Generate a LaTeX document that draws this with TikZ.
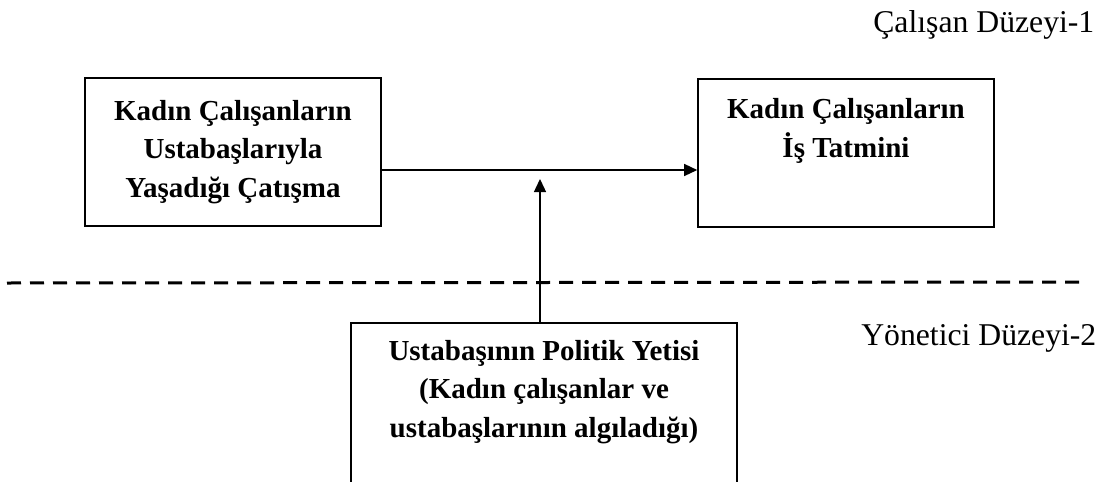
\documentclass[tikz,border=0pt]{standalone}
\usepackage{fontspec}
\setmainfont{Liberation Serif}
\usetikzlibrary{arrows.meta}
\tikzset{
  kutu/.style={draw,line width=1.6pt,align=center,inner sep=0pt,
    font=\fontsize{29}{38.5}\selectfont\bfseries},
  duzey/.style={anchor=base east,inner sep=0pt,font=\fontsize{31.7}{38}\selectfont},
}
\begin{document}
\begin{tikzpicture}[x=1pt,y=-1pt,>={Triangle[length=13pt,width=12pt]},line width=1.4pt]
  \useasboundingbox (0,0) rectangle (1109,482);
  \clip (0,0) rectangle (1109,482);

  % kutular
  \node[kutu,minimum width=296pt,minimum height=148pt] (catisma) at (233,152)
    {Kadın Çalışanların\\Ustabaşlarıyla\\Yaşadığı Çatışma};
  \node[kutu,minimum width=296pt,minimum height=148pt] (tatmin) at (846,153)
    {Kadın Çalışanların\\İş Tatmini\\\strut};
  \node[kutu,minimum width=386pt,minimum height=220pt,anchor=north] (yeti) at (544,322)
    {Ustabaşının Politik Yetisi\\(Kadın çalışanlar ve\\ustabaşlarının algıladığı)\\\strut\\\strut};

  \coordinate (bas) at (catisma.east |- 0,170);
  \coordinate (uc) at (540,179);
  \coordinate (solkesik) at (7,283);
  \coordinate (sagkesik) at (1082,282);

  % okler
  \draw[->] (bas) -- (tatmin.west |- bas);
  \draw[->] (yeti.north -| uc) -- (uc);

  % düzey ayrımı
  \draw[line width=3pt,dash pattern=on 14pt off 9pt] (solkesik) -- (sagkesik);

  % düzey etiketleri
  \node[duzey] (duzey1) at (1095,32) {Çalışan Düzeyi-1};
  \node[duzey] (duzey2) at (1097,345) {Yönetici Düzeyi-2};
\end{tikzpicture}
\end{document}
